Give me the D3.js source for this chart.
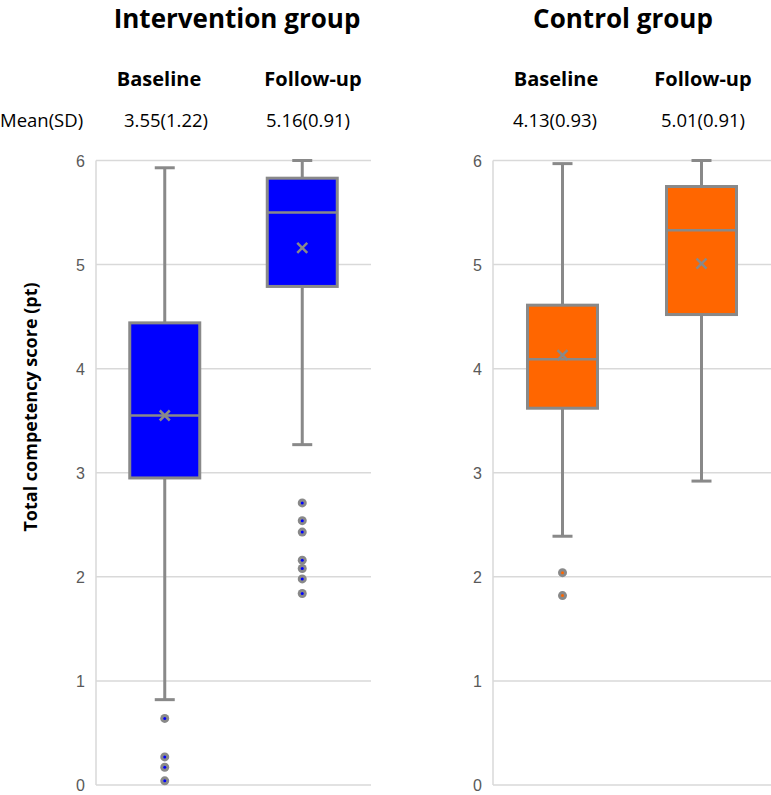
<!DOCTYPE html>
<html>
<head>
<meta charset="utf-8">
<script src="https://cdn.jsdelivr.net/npm/d3@7"></script>
<style>
  body { margin: 0; background: #fff; }
  svg { display: block; }
</style>
</head>
<body>
<div id="chart"></div>
<script>
// data
const groups = ["Intervention group", "Control group"];
const timepoints = ["Baseline", "Follow-up"];
const meanSdLabels = [["3.55(1.22)", "5.16(0.91)"], ["4.13(0.93)", "5.01(0.91)"]];
const whiskerLow = [[0.82, 3.27], [2.39, 2.92]];
const q1 = [[2.95, 4.79], [3.62, 4.52]];
const median = [[3.55, 5.50], [4.09, 5.33]];
const q3 = [[4.44, 5.83], [4.61, 5.75]];
const whiskerHigh = [[5.93, 6.00], [5.97, 6.00]];
const means = [[3.55, 5.16], [4.13, 5.01]];
const outliers = [
  [[0.64, 0.27, 0.17, 0.04], [2.71, 2.54, 2.43, 2.16, 2.08, 1.98, 1.84]],
  [[2.04, 1.82], []]
];
const groupColors = ["#0000ff", "#ff6600"];
const yTicks = [0, 1, 2, 3, 4, 5, 6];

let width = 771, height = 795;
let svg = d3.select("#chart").append("svg")
  .attr("width", width)
  .attr("height", height);

let y = d3.scaleLinear().domain([0, 6]).range([785, 160.5]);

// panel extents
let panels = [
  { left: 96, right: 371, tickX: 85 },
  { left: 493, right: 771, tickX: 482 }
];

let boxW = 70, capW = 20, grey = "#898989";

panels.forEach((p, gi) => {
  let x = d3.scaleBand().domain(timepoints).range([p.left, p.right]);
  let g = svg.append("g");

  // gridlines
  g.selectAll("line.grid")
    .data(yTicks)
    .enter()
    .append("line")
    .attr("class", "grid")
    .attr("x1", p.left).attr("x2", p.right)
    .attr("y1", d => y(d)).attr("y2", d => y(d))
    .attr("stroke", "#d9d9d9")
    .attr("stroke-width", 1.5);

  // left axis line
  g.append("line")
    .attr("x1", p.left).attr("x2", p.left)
    .attr("y1", y(6)).attr("y2", y(0))
    .attr("stroke", "#d9d9d9")
    .attr("stroke-width", 1.5);

  // tick labels
  g.selectAll("text.tick")
    .data(yTicks)
    .enter()
    .append("text")
    .attr("class", "tick")
    .attr("x", p.tickX)
    .attr("y", d => y(d) + 6)
    .attr("text-anchor", "end")
    .style("font-family", "Liberation Sans, Arial, sans-serif")
    .style("font-size", "16px")
    .style("fill", "#595959")
    .text(d => d);

  timepoints.forEach((t, ti) => {
    let cx = x(t) + x.bandwidth() / 2;

    // whisker
    g.append("line")
      .attr("x1", cx).attr("x2", cx)
      .attr("y1", y(whiskerLow[gi][ti])).attr("y2", y(whiskerHigh[gi][ti]))
      .attr("stroke", grey).attr("stroke-width", 3);
    [whiskerLow[gi][ti], whiskerHigh[gi][ti]].forEach(v => {
      g.append("line")
        .attr("x1", cx - capW / 2).attr("x2", cx + capW / 2)
        .attr("y1", y(v)).attr("y2", y(v))
        .attr("stroke", grey).attr("stroke-width", 3);
    });

    // box
    g.append("rect")
      .attr("x", cx - boxW / 2)
      .attr("y", y(q3[gi][ti]))
      .attr("width", boxW)
      .attr("height", y(q1[gi][ti]) - y(q3[gi][ti]))
      .attr("fill", groupColors[gi])
      .attr("stroke", grey).attr("stroke-width", 3);

    // median
    g.append("line")
      .attr("x1", cx - boxW / 2).attr("x2", cx + boxW / 2)
      .attr("y1", y(median[gi][ti])).attr("y2", y(median[gi][ti]))
      .attr("stroke", grey).attr("stroke-width", 2.5);

    // mean marker (x)
    let my = y(means[gi][ti]), s = 5;
    g.append("path")
      .attr("d", `M${cx - s},${my - s}L${cx + s},${my + s}M${cx - s},${my + s}L${cx + s},${my - s}`)
      .attr("stroke", grey).attr("stroke-width", 2.5)
      .attr("fill", "none");

    // outliers
    let pts = g.selectAll(null)
      .data(outliers[gi][ti])
      .enter()
      .append("g")
      .attr("transform", d => `translate(${cx},${y(d)})`);
    pts.append("circle").attr("r", 4.5).attr("fill", grey);
    pts.append("circle").attr("r", 1.5).attr("fill", groupColors[gi]);
  });

  // headers
  let titleCx = [237, 623][gi];
  svg.append("text")
    .attr("x", titleCx).attr("y", 28)
    .attr("text-anchor", "middle")
    .style("font-family", "Open Sans, sans-serif")
    .style("font-weight", "bold")
    .style("font-size", "26px")
    .text(groups[gi]);

  let headCx = [[159, 313], [556, 703]][gi];
  let statCx = [[166, 308], [555, 703]][gi];
  timepoints.forEach((t, ti) => {
    svg.append("text")
      .attr("x", headCx[ti]).attr("y", 86)
      .attr("text-anchor", "middle")
      .style("font-family", "Open Sans, sans-serif")
      .style("font-weight", "bold")
      .style("font-size", "20px")
      .text(t);
    svg.append("text")
      .attr("x", statCx[ti]).attr("y", 127)
      .attr("text-anchor", "middle")
      .style("font-family", "Open Sans, sans-serif")
      .style("font-size", "18.5px")
      .text(meanSdLabels[gi][ti]);
  });
});

svg.append("text")
  .attr("x", 0).attr("y", 127)
  .style("font-family", "Open Sans, sans-serif")
  .style("font-size", "18.5px")
  .text("Mean(SD)");

// y axis title
svg.append("text")
  .attr("transform", "translate(37,407) rotate(-90)")
  .attr("text-anchor", "middle")
  .style("font-family", "Open Sans, sans-serif")
  .style("font-weight", "bold")
  .style("font-size", "18px")
  .text("Total competency score (pt)");
</script>
</body>
</html>
